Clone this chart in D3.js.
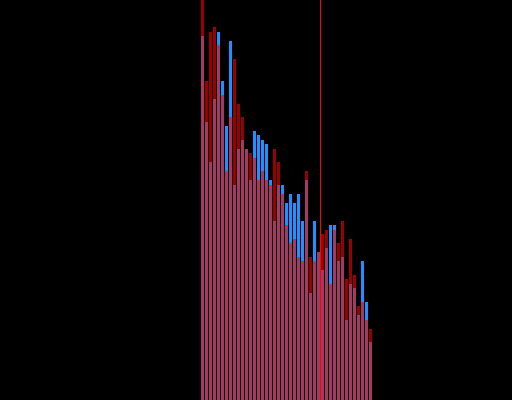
<!DOCTYPE html>
<html lang="en">
<head>
    <meta charset="UTF-8">
    <title>Overlaid histograms</title>
    <script src="https://d3js.org/d3.v7.min.js"></script>
    <style>
        body {
            margin: 0;
            background-color: #000;
        }
        svg {
            display: block;
        }
    </style>
</head>
<body>
    <div id="chart"></div>

    <script>
        // Bin counts for the two series (one value per bin)
        const bins = d3.range(43);
        const blueCounts = [364, 278, 238, 301, 368, 319, 274, 359, 215, 251, 260, 251, 220, 269, 265, 260,
            256, 220, 179, 215, 215, 197, 206, 197, 206, 179, 220, 107, 179, 148, 130, 152, 175, 175, 139,
            143, 80, 116, 112, 85, 139, 98, 58];
        const redCounts = [410, 319, 368, 373, 355, 305, 229, 283, 341, 296, 283, 251, 247, 242, 220, 229,
            220, 215, 251, 238, 206, 175, 157, 161, 143, 139, 229, 143, 139, 148, 166, 170, 116, 170, 157,
            179, 121, 161, 125, 94, 98, 80, 71];
        // Marker position, in bin units
        const markerValue = [29.875];

        const width = 512;
        const height = 400;

        const svg = d3.select("#chart")
            .append("svg")
            .attr("width", width)
            .attr("height", height);

        svg.append("rect")
            .attr("width", width)
            .attr("height", height)
            .attr("fill", "#000");

        // Scales
        const x = d3.scaleLinear()
            .domain([0, bins.length])
            .range([201, 373]);

        const y = d3.scaleLinear()
            .domain([0, 400])
            .range([height, 0]);

        const barW = x(1) - x(0) - 1;

        // Blue series, opaque
        svg.selectAll(".blue-bar")
            .data(bins)
            .enter()
            .append("rect")
            .attr("class", "blue-bar")
            .attr("x", i => x(i))
            .attr("y", i => y(blueCounts[i]))
            .attr("width", barW)
            .attr("height", i => height - y(blueCounts[i]))
            .attr("fill", "#1e90ff");

        // Red series drawn on top, semi transparent
        svg.selectAll(".red-bar")
            .data(bins)
            .enter()
            .append("rect")
            .attr("class", "red-bar")
            .attr("x", i => x(i))
            .attr("y", i => y(redCounts[i]))
            .attr("width", barW)
            .attr("height", i => height - y(redCounts[i]))
            .attr("fill", "#ff0000")
            .attr("fill-opacity", 0.6);

        // Vertical marker line
        svg.selectAll(".marker")
            .data(markerValue)
            .enter()
            .append("line")
            .attr("class", "marker")
            .attr("x1", d => x(d))
            .attr("x2", d => x(d))
            .attr("y1", 0)
            .attr("y2", height)
            .attr("stroke", "#ff0000")
            .attr("stroke-width", 1);
    </script>
</body>
</html>
